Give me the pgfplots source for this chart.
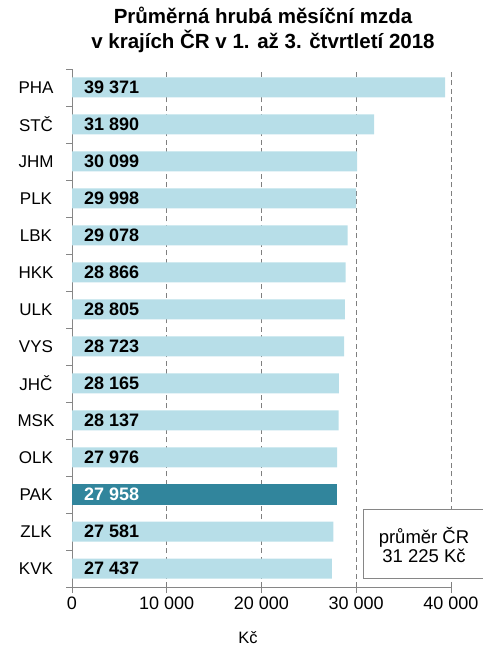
\documentclass[border=0pt]{standalone}
\usepackage{fontspec}
\setmainfont{Liberation Sans}
\usepackage{pgfplots}
\pgfplotsset{compat=1.18}
\definecolor{lightbar}{HTML}{B7DEE8}
\definecolor{darkbar}{HTML}{31859C}
\definecolor{axgray}{HTML}{868686}
\definecolor{gridgray}{HTML}{7F7F7F}
\begin{document}
\begin{tikzpicture}
\begin{axis}[
  at={(0,0)}, anchor=south west,
  width=379bp, height=518bp, scale only axis,
  xmin=0, xmax=40000, ymin=-0.5, ymax=13.5,
  axis x line*=bottom, axis y line*=left,
  axis line style={axgray, line width=0.9pt, -},
  scaled x ticks=false,
  xtick={0,10000,20000,30000,40000},
  xticklabels={0,10 000,20 000,30 000,40 000},
  xticklabel style={font=\fontsize{18bp}{21bp}\selectfont},
  ytick={-0.5,0.5,1.5,2.5,3.5,4.5,5.5,6.5,7.5,8.5,9.5,10.5,11.5,12.5,13.5},
  yticklabels={KVK,ZLK,PAK,OLK,MSK,JHČ,VYS,ULK,HKK,LBK,PLK,JHM,STČ,PHA,{}},
  yticklabel style={font=\fontsize{17bp}{20bp}\selectfont, anchor=center, xshift=-30bp, yshift=18.5bp},
  tick align=outside, major tick length=6bp,
  tick style={axgray, line width=0.9pt},
  xmajorgrids, grid style={gridgray, line width=0.9pt, dash pattern=on 5bp off 3.5bp},
  clip=false,
]
\addplot[xbar, bar width=20bp, bar shift=0pt, fill=lightbar, draw=none] coordinates {
(27437,0) (27581,1) (27976,3) (28137,4) (28165,5) (28723,6) (28805,7)
(28866,8) (29078,9) (29998,10) (30099,11) (31890,12) (39371,13)};
\addplot[xbar, bar width=20bp, bar shift=0pt, fill=darkbar, draw=none] coordinates {(27958,2)};
\addplot[draw=none, mark=none, nodes near coords, point meta=explicit symbolic,
  nodes near coords style={anchor=west, inner sep=0pt, xshift=12bp, text=black,
  font=\bfseries\fontsize{18bp}{21bp}\selectfont}] coordinates {
(0,0) [27\ 437] (0,1) [27\ 581] (0,3) [27\ 976] (0,4) [28\ 137] (0,5) [28\ 165]
(0,6) [28\ 723] (0,7) [28\ 805] (0,8) [28\ 866] (0,9) [29\ 078] (0,10) [29\ 998]
(0,11) [30\ 099] (0,12) [31\ 890] (0,13) [39\ 371]};
\addplot[draw=none, mark=none, nodes near coords, point meta=explicit symbolic,
  nodes near coords style={anchor=west, inner sep=0pt, xshift=12bp, text=white,
  font=\bfseries\fontsize{18bp}{21bp}\selectfont}] coordinates {(0,2) [27\ 958]};
\end{axis}
\node[align=center, font=\bfseries\fontsize{20.5bp}{25bp}\selectfont] at (191bp,557.5bp)
  {Průměrná hrubá měsíční mzda\\ v krajích ČR v 1. až 3. čtvrtletí 2018};
\node[font=\fontsize{16.5bp}{20bp}\selectfont] at (176bp,-51bp) {Kč};
\draw[axgray, line width=0.9pt, fill=white] (291bp,9bp) rectangle (413bp,78bp);
\node[align=center, font=\fontsize{18.5bp}{19bp}\selectfont] at (352bp,42bp) {průměr ČR\\31 225 Kč};
\pgfresetboundingbox
\useasboundingbox (-72bp,-61bp) rectangle (411bp,587bp);
\end{tikzpicture}
\end{document}
